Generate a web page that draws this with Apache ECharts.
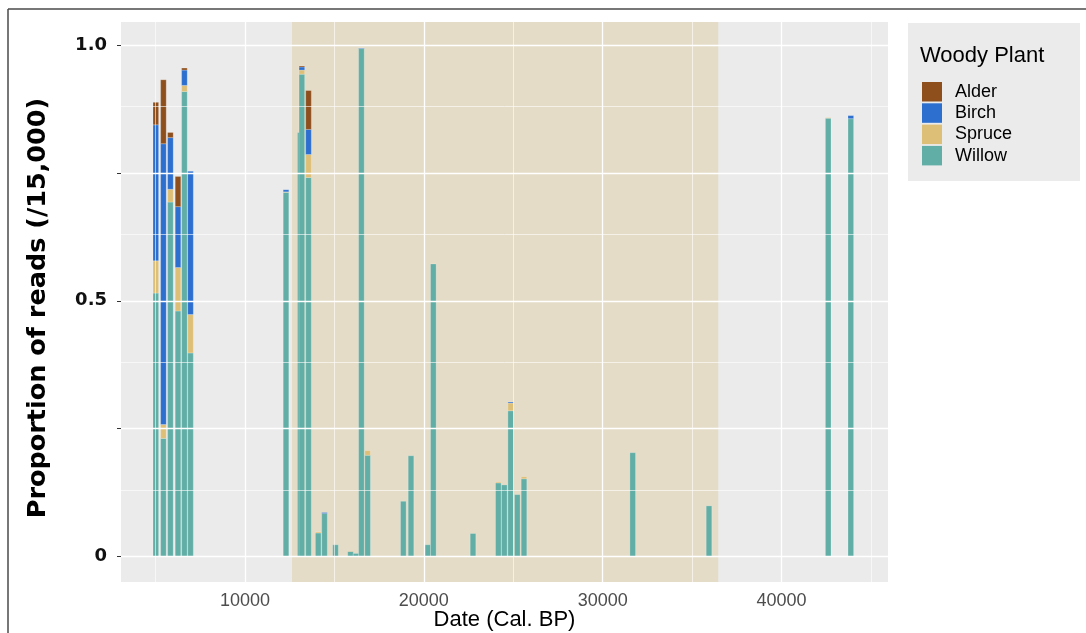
<!DOCTYPE html>
<html><head><meta charset="utf-8">
<script src="https://cdn.jsdelivr.net/npm/echarts@6/dist/echarts.min.js"></script>
<style>html,body{margin:0;padding:0;background:#fff}#c{width:1086px;height:633px}</style>
</head><body><div id="c"></div>
<script>
// Sample dates (Cal. BP)
const dates  = [5015, 5440, 5831, 6256, 6614, 6955, 12294, 13091, 13180, 13552, 14094, 14446, 15061, 15900, 16207, 16509, 16856, 18852, 19282, 20216, 20529, 22748, 24163, 24498, 24856, 25225, 25599, 31677, 35942, 42606, 43870];
// Proportion of reads per taxon
const willow = [0.515, 0.231, 0.693, 0.480, 0.909, 0.398, 0.712, 0.829, 0.943, 0.741, 0.046, 0.084, 0.023, 0.010, 0.006, 0.993, 0.198, 0.108, 0.197, 0.023, 0.572, 0.045, 0.144, 0.140, 0.285, 0.121, 0.152, 0.203, 0.099, 0.857, 0.856];
const spruce = [0.063, 0.027, 0.025, 0.085, 0.012, 0.075, 0.001, 0.000, 0.008, 0.045, 0.002, 0.000, 0.000, 0.001, 0.000, 0.000, 0.009, 0.000, 0.000, 0.000, 0.000, 0.000, 0.002, 0.000, 0.015, 0.000, 0.004, 0.000, 0.000, 0.001, 0.000];
const birch  = [0.266, 0.549, 0.101, 0.119, 0.030, 0.280, 0.004, 0.000, 0.006, 0.049, 0.000, 0.002, 0.000, 0.000, 0.000, 0.001, 0.000, 0.000, 0.000, 0.000, 0.000, 0.000, 0.000, 0.000, 0.002, 0.000, 0.000, 0.000, 0.000, 0.000, 0.006];
const alder  = [0.044, 0.125, 0.010, 0.059, 0.004, 0.000, 0.000, 0.000, 0.002, 0.076, 0.000, 0.000, 0.000, 0.000, 0.000, 0.000, 0.000, 0.000, 0.000, 0.000, 0.000, 0.000, 0.000, 0.000, 0.000, 0.000, 0.000, 0.000, 0.000, 0.000, 0.000];
const legendNames = ['Alder', 'Birch', 'Spruce', 'Willow'];
const xMajor = [10000, 20000, 30000, 40000];
const xMinor = [5000, 15000, 25000, 35000, 45000];
const yMajor = [0, 0.25, 0.5, 0.75, 1];
const yMinor = [0.125, 0.375, 0.625, 0.875];
const yLabelValues = [0, 0.5, 1];
const shadeRange = [12630, 36460];

const colors = {Alder: '#8E4F1D', Birch: '#2C6FCF', Spruce: '#DEBF77', Willow: '#61AEA6'};
const chart = echarts.init(document.getElementById('c'), null, {renderer: 'canvas'});

// stacking order from bottom: Willow, Spruce, Birch, Alder
const stackOrder = [['Willow', willow], ['Spruce', spruce], ['Birch', birch], ['Alder', alder]];
const base = dates.map(() => 0);
const BAR_W = 5.6;
const barSeriesList = stackOrder.map(([name, vals]) => {
  const data = dates.map((d, i) => [d, vals[i], base[i]]);
  vals.forEach((v, i) => { base[i] += v; });
  return {
    name: name, type: 'custom', z: 2,
    itemStyle: {color: colors[name]},
    encode: {x: 0, y: 1},
    data: data,
    renderItem: function (params, api) {
      const x = api.value(0), v = api.value(1), b = api.value(2);
      if (!(v > 0)) return null;
      const p0 = api.coord([x, b]);
      const p1 = api.coord([x, b + v]);
      return {
        type: 'rect',
        shape: {x: p0[0] - BAR_W / 2, y: p1[1], width: BAR_W, height: p0[1] - p1[1]},
        style: {fill: colors[name], stroke: 'rgba(255,255,255,0.35)', lineWidth: 0.6}
      };
    }
  };
});

const gridLines = []
  .concat(xMajor.map(v => ({xAxis: v, lineStyle: {width: 1.3}})))
  .concat(xMinor.map(v => ({xAxis: v, lineStyle: {width: 0.6}})))
  .concat(yMajor.map(v => ({yAxis: v, lineStyle: {width: 1.3}})))
  .concat(yMinor.map(v => ({yAxis: v, lineStyle: {width: 0.6}})));

chart.setOption({
  animation: false,
  backgroundColor: '#fff',
  textStyle: {fontFamily: 'Liberation Sans'},
  grid: {left: 121, right: 198, top: 22, bottom: 51, show: true, backgroundColor: '#EBEBEB', borderWidth: 0,
    containLabel: false, outerBoundsMode: 'none'},
  xAxis: {
    type: 'value', min: 3069, max: 45949,
    name: 'Date (Cal. BP)', nameLocation: 'middle', nameGap: 27, nameMoveOverlap: false,
    nameTextStyle: {fontSize: 22, color: '#000', fontFamily: 'Liberation Sans'},
    axisLine: {show: false},
    axisTick: {show: true, customValues: xMajor, length: 4, lineStyle: {color: '#333'}},
    axisLabel: {customValues: xMajor, fontSize: 18, color: '#4D4D4D', margin: 10, formatter: v => String(v)},
    splitLine: {show: false}
  },
  yAxis: {
    type: 'value', min: -0.0498, max: 1.045,
    name: 'Proportion of reads (/15,000)', nameLocation: 'middle', nameGap: 70, nameMoveOverlap: false,
    nameTextStyle: {fontSize: 25.5, fontWeight: 'bold', color: '#000', fontFamily: 'DejaVu Sans', padding: [0, 12, 0, 0]},
    axisLine: {show: false},
    axisTick: {show: true, customValues: yMajor, length: 4, lineStyle: {color: '#333'}},
    axisLabel: {customValues: yLabelValues, fontSize: 18, fontWeight: 'bold', color: '#111', fontFamily: 'DejaVu Sans', margin: 14,
      formatter: v => (v === 1 ? '1.0' : String(v))},
    splitLine: {show: false}
  },
  legend: {
    data: legendNames, orient: 'vertical', left: 922, top: 82, padding: 0,
    itemWidth: 20, itemHeight: 19.5, itemGap: 1.8, icon: 'rect',
    textStyle: {fontSize: 18, color: '#000', fontFamily: 'Liberation Sans', padding: [0, 0, 0, 8]},
    selectedMode: false
  },
  graphic: [
    {type: 'rect', left: 908, top: 23, shape: {width: 172, height: 158}, style: {fill: '#EBEBEB'}, z: -1},
    {type: 'text', left: 920, top: 45, style: {text: 'Woody Plant', font: '22px "Liberation Sans"', fill: '#000'}},
    {type: 'line', shape: {x1: 8, y1: 9, x2: 1086, y2: 9}, style: {stroke: '#4a4a4a', lineWidth: 1.5}},
    {type: 'line', shape: {x1: 8, y1: 9, x2: 8, y2: 633}, style: {stroke: '#4a4a4a', lineWidth: 1.5}}
  ],
  series: [
    {type: 'line', data: [], z: 1, silent: true,
      markLine: {silent: true, symbol: ['none', 'none'], label: {show: false}, animation: false,
        lineStyle: {color: '#fff', type: 'solid'}, data: gridLines}}
  ].concat(barSeriesList).concat([
    {type: 'line', data: [], z: 5, silent: true,
      markArea: {silent: true, itemStyle: {color: 'rgba(220,197,145,0.4)'},
        data: [[{xAxis: shadeRange[0]}, {xAxis: shadeRange[1]}]]}}
  ])
});
</script></body></html>
